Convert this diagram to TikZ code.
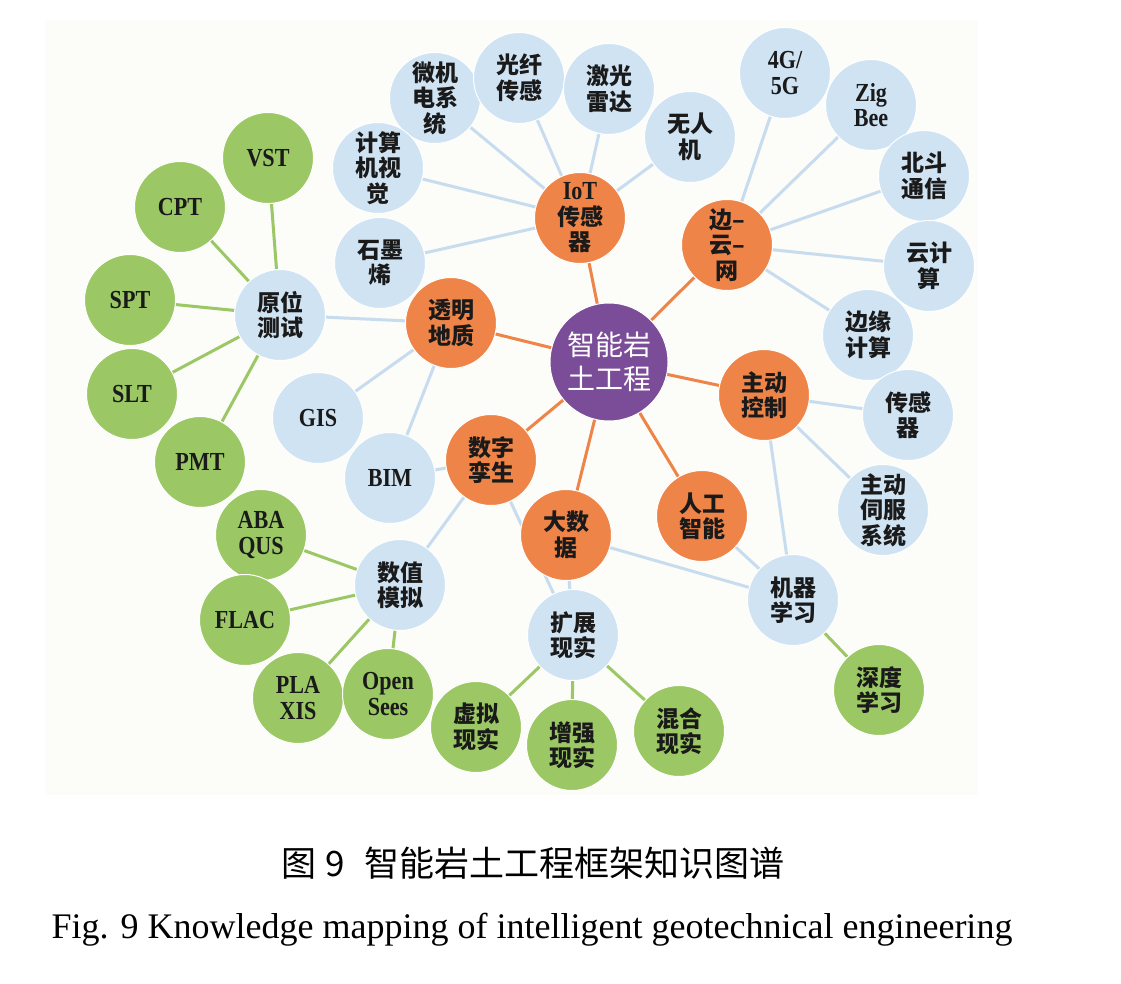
\documentclass[tikz,border=0pt]{standalone}
\usepackage{fontspec}
\setmainfont{Liberation Serif}
\newfontfamily\cjk{Noto Sans CJK SC}
\newfontfamily\latb[FakeStretch=0.85]{Liberation Serif Bold}
\usetikzlibrary{backgrounds}
\definecolor{purplec}{HTML}{7B4D98}
\definecolor{orangec}{HTML}{EE8448}
\definecolor{bluec}{HTML}{CFE3F3}
\definecolor{greenc}{HTML}{9BC864}
\definecolor{bluel}{HTML}{C8DCEF}
\definecolor{txt}{HTML}{1A1A1A}
\definecolor{bgc}{HTML}{FCFCF8}
\newcommand{\lt}[1]{{\latb\fontsize{26}{25}\selectfont #1}}
\tikzset{
  every node/.style={inner sep=0pt, align=center},
  bub/.style={circle, minimum size=91pt, draw=white, line width=1pt, text=txt,
    font=\cjk\bfseries\fontsize{23}{25.5}\selectfont},
  core/.style={circle, minimum size=118pt, fill=purplec, draw=white, line width=1pt, text=white,
    font=\cjk\fontsize{28}{34}\selectfont},
  hub/.style={bub, fill=orangec},
  leaf/.style={bub, fill=bluec},
  gleaf/.style={bub, fill=greenc},
  oline/.style={draw=orangec, line width=3pt},
  bline/.style={draw=bluel, line width=3pt},
  gline/.style={draw=greenc, line width=3pt},
}
\begin{document}
\begin{tikzpicture}[x=1pt,y=-1pt]
\useasboundingbox (0,0) rectangle (1121,984);
% core and hubs
\node[core] (P) at (609,362) {智能岩\\土工程};
\node[hub] (IoT) at (580,218) {\lt{IoT}\\传感\\器};
\node[hub] (E) at (727,245) {边–\\云–\\网};
\node[hub] (T) at (451,323) {透明\\地质};
\node[hub] (A) at (764,395) {主动\\控制};
\node[hub] (D) at (491,460) {数字\\孪生};
\node[hub] (B) at (566,535) {大数\\据};
\node[hub] (AI) at (702,516) {人工\\智能};
% blue leaves
\node[leaf] (w1) at (435,98) {微机\\电系\\统};
\node[leaf] (w2) at (519,78) {光纤\\传感};
\node[leaf] (w3) at (609,89) {激光\\雷达};
\node[leaf] (w4) at (690,137) {无人\\机};
\node[leaf] (w5) at (378,168) {计算\\机视\\觉};
\node[leaf] (w6) at (380,263) {石墨\\烯};
\node[leaf] (e1) at (785,73) {\lt{4G/}\\\lt{5G}};
\node[leaf] (e2) at (871,105) {\lt{Zig}\\\lt{Bee}};
\node[leaf] (e3) at (924,176) {北斗\\通信};
\node[leaf] (e4) at (929,266) {云计\\算};
\node[leaf] (e5) at (868,335) {边缘\\计算};
\node[leaf] (a1) at (908,415) {传感\\器};
\node[leaf] (a2) at (883,510) {主动\\伺服\\系统};
\node[leaf] (t1) at (280,315) {原位\\测试};
\node[leaf] (t2) at (318,418) {\lt{GIS}};
\node[leaf] (t3) at (390,478) {\lt{BIM}};
\node[leaf] (d1) at (400,585) {数值\\模拟};
\node[leaf] (x1) at (573,635) {扩展\\现实};
\node[leaf] (m1) at (793,600) {机器\\学习};
% green leaves
\node[gleaf] (g1) at (268,158) {\lt{VST}};
\node[gleaf] (g2) at (180,207) {\lt{CPT}};
\node[gleaf] (g3) at (130,300) {\lt{SPT}};
\node[gleaf] (g4) at (132,394) {\lt{SLT}};
\node[gleaf] (g5) at (200,462) {\lt{PMT}};
\node[gleaf] (g6) at (261,535) {\lt{ABA}\\\lt{QUS}};
\node[gleaf] (g7) at (245,620) {\lt{FLAC}};
\node[gleaf] (g8) at (298,698) {\lt{PLA}\\\lt{XIS}};
\node[gleaf] (g9) at (388,694) {\lt{Open}\\\lt{Sees}};
\node[gleaf] (g10) at (476,727) {虚拟\\现实};
\node[gleaf] (g11) at (572,745) {增强\\现实};
\node[gleaf] (g12) at (679,731) {混合\\现实};
\node[gleaf] (g13) at (879,690) {深度\\学习};
% background and connectors
\begin{scope}[on background layer]
\fill[bgc] (45,20) rectangle (978,795);
\foreach \h in {IoT,E,T,A,D,B,AI} \draw[oline] (P.center) -- (\h.center);
\foreach \l in {w1,w2,w3,w4,w5,w6} \draw[bline] (IoT.center) -- (\l.center);
\foreach \l in {e1,e2,e3,e4,e5} \draw[bline] (E.center) -- (\l.center);
\foreach \l in {t1,t2,t3} \draw[bline] (T.center) -- (\l.center);
\foreach \l in {t3,d1,x1} \draw[bline] (D.center) -- (\l.center);
\foreach \l in {x1,m1} \draw[bline] (B.center) -- (\l.center);
\draw[bline] (AI.center) -- (m1.center);
\foreach \l in {a1,a2,m1} \draw[bline] (A.center) -- (\l.center);
\foreach \l in {g1,g2,g3,g4,g5} \draw[gline] (t1.center) -- (\l.center);
\foreach \l in {g6,g7,g8,g9} \draw[gline] (d1.center) -- (\l.center);
\foreach \l in {g10,g11,g12} \draw[gline] (x1.center) -- (\l.center);
\draw[gline] (m1.center) -- (g13.center);
\end{scope}
% captions
\node[font=\cjk\fontsize{35}{40}\selectfont] (cap1) at (533,863) {图\hspace{0.25em}9\hspace{0.55em}智能岩土工程框架知识图谱};
\node[font=\fontsize{36}{40}\selectfont] (cap2) at (532,930) {Fig. 9 Knowledge mapping of intelligent geotechnical engineering};
\end{tikzpicture}
\end{document}
